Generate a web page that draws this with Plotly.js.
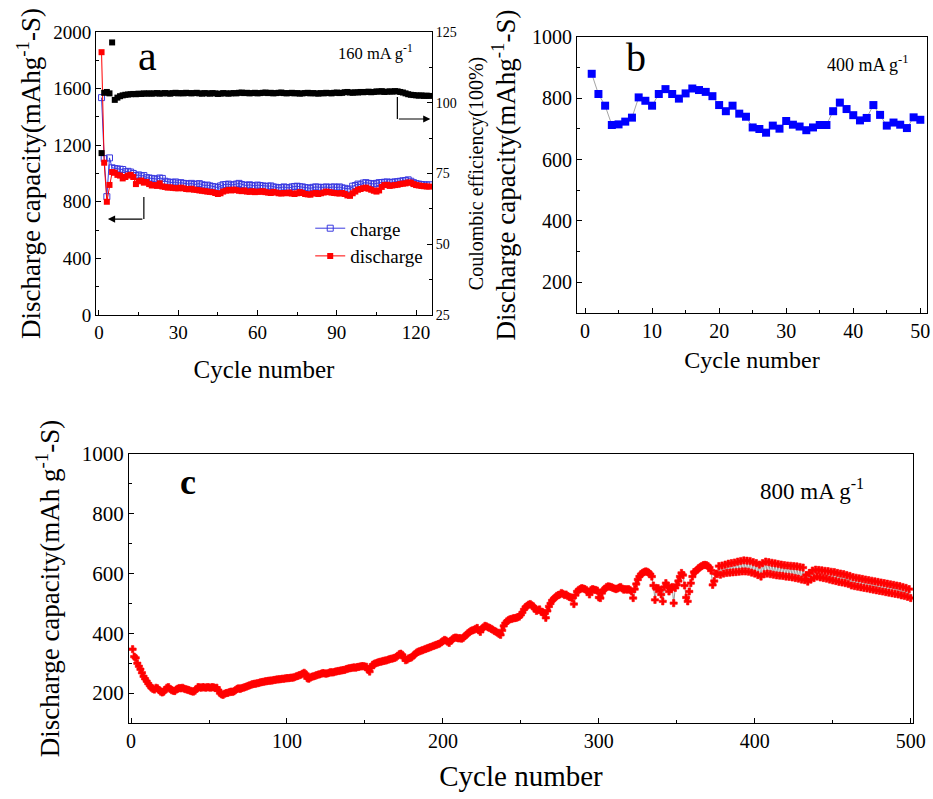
<!DOCTYPE html>
<html><head><meta charset="utf-8">
<script src="https://cdn.plot.ly/plotly-3.0.1.min.js"></script>
<style>html,body{margin:0;padding:0;background:#fff}#chart{width:933px;height:799px}</style>
</head><body><div id="chart"></div>
<script>
// ---------- Panel a (160 mA g-1) ----------
const chargeA = [
1536,1105,836,1110,1040,1035,1032,1030,1028,1012,
1015,1010,1000,985,990,982,985,970,968,965,
962,960,968,965,945,940,938,935,940,932,
935,930,928,925,930,922,925,928,920,915,
918,912,908,905,900,912,920,922,925,918,
920,925,930,922,918,915,920,915,912,918,
915,912,908,910,912,905,902,898,900,905,
900,898,905,908,910,906,905,900,898,895,
902,905,903,900,902,905,900,903,905,900,
905,898,895,888,890,910,915,925,920,932,
935,930,928,925,930,935,936,938,940,935,
938,940,942,945,948,950,955,945,935,928,
925,922,920,918,920];
const dischargeA = [
1857,1076,800,919,1010,1005,990,985,965,975,
985,990,975,925,945,950,935,940,925,915,
918,912,930,908,905,900,902,898,896,895,
900,895,890,888,892,885,884,880,878,875,
872,870,868,862,855,860,872,878,884,880,
886,882,878,875,880,872,870,875,868,872,
870,875,868,865,862,870,865,860,858,862,
860,865,858,855,860,868,862,855,852,850,
858,862,855,860,865,872,868,865,862,860,
858,862,855,845,842,860,872,885,890,896,
900,892,885,878,872,880,905,918,920,912,
915,918,920,925,928,930,936,935,925,918,
915,912,910,908,907];
const coulombA = [
82.2,103.5,103.8,103.3,121.3,101.0,101.8,102.3,102.6,102.8,
102.9,103.0,103.1,103.0,103.2,103.1,103.3,103.2,103.3,103.2,
103.3,103.4,103.2,103.3,103.4,103.3,103.2,103.4,103.5,103.3,
103.4,103.3,103.5,103.4,103.3,103.4,103.5,103.3,103.2,103.4,
103.3,103.2,103.4,103.3,103.1,103.2,103.4,103.3,103.2,103.3,
103.4,103.3,103.5,103.6,103.4,103.5,103.3,103.4,103.5,103.3,
103.4,103.5,103.6,103.4,103.5,103.3,103.4,103.5,103.6,103.4,
103.3,103.4,103.5,103.3,103.4,103.2,103.3,103.4,103.5,103.3,
103.4,103.3,103.2,103.4,103.3,103.5,103.4,103.3,103.5,103.6,
103.4,103.5,103.7,103.8,103.6,103.5,103.7,103.6,103.8,103.7,
103.8,103.9,103.7,103.8,104.0,103.9,104.1,103.8,103.9,104.0,
103.9,104.1,104.0,103.8,103.6,103.3,103.0,102.8,102.7,102.6,
102.5,102.6,102.4,102.5,102.4];

// ---------- Panel b (400 mA g-1) ----------
const dischargeB = [
880,814,776,713,715,724,737,803,792,776,
814,830,814,799,816,832,827,821,807,778,
758,776,750,740,705,700,688,711,701,726,
714,708,696,705,713,713,758,786,765,745,
728,736,778,746,711,721,714,703,738,730];

// ---------- Panel c (800 mA g-1) ----------
const dischargeC = [
347,322,318,300,290,280,268,256,248,240,
232,225,218,214,212,218,216,210,205,202,
205,212,218,220,214,210,208,207,212,215,
217,216,218,215,213,212,210,208,206,205,
208,214,220,219,218,220,219,218,220,219,
218,220,219,217,218,210,200,196,194,198,
200,201,203,205,204,206,210,214,216,214,
217,218,220,222,224,226,228,230,231,232,
233,234,236,237,238,239,240,241,242,242,
243,244,245,246,246,247,248,248,249,250,
250,251,252,252,254,256,258,260,262,265,
268,264,250,248,252,255,256,258,260,262,
263,265,267,266,265,266,268,270,269,270,
272,273,274,275,276,277,278,280,282,283,
284,285,286,285,287,288,289,290,290,289,
288,278,272,285,295,298,300,302,304,305,
306,308,309,310,312,314,315,316,318,320,
325,330,332,328,318,310,312,316,318,320,
325,330,335,338,340,342,344,346,348,350,
352,354,356,358,360,362,364,366,370,374,
378,376,372,368,375,380,384,386,385,383,
384,382,385,390,395,400,404,408,410,412,
415,418,410,405,415,420,425,423,420,418,
415,412,408,406,402,398,395,410,425,434,
440,444,447,448,450,451,452,454,456,462,
470,480,488,492,496,498,494,490,482,475,
478,480,472,470,468,452,475,490,500,510,
515,520,525,528,530,535,532,528,530,525,
522,520,518,498,528,540,545,548,551,550,
548,545,540,530,545,548,546,545,543,520,
518,535,545,550,555,557,556,555,552,550,
548,550,553,555,550,546,548,546,548,545,
540,518,548,565,580,590,598,602,605,607,
606,603,598,590,560,512,548,551,545,530,
507,555,568,560,540,548,555,501,552,562,
575,590,602,595,560,520,507,540,568,590,
605,607,612,618,622,625,628,629,628,625,
620,610,562,575,600,598,625,596,627,600,
630,602,633,603,635,604,637,605,640,606,
642,607,644,607,643,606,642,603,638,600,
635,595,630,590,635,598,640,600,638,598,
636,596,634,594,632,593,630,592,628,590,
627,589,626,587,625,585,624,583,622,580,
620,578,595,573,602,580,610,585,613,590,
612,587,611,585,609,583,608,580,606,577,
605,575,602,572,600,570,598,568,595,565,
592,560,588,558,586,556,584,554,582,552,
580,550,578,548,576,546,574,544,572,542,
570,540,568,538,566,536,564,534,562,532,
560,530,558,527,555,525,552,522,548,518];

const cycA = Array.from({length: chargeA.length}, (_, i) => i + 1);
const cycB = Array.from({length: dischargeB.length}, (_, i) => i + 1);
const cycC = Array.from({length: dischargeC.length}, (_, i) => i + 1);

const FONT = "'Liberation Serif', 'DejaVu Serif', serif";

const traces = [
  {x: cycA, y: chargeA, xaxis: 'x', yaxis: 'y', name: 'charge', mode: 'lines+markers',
   line: {color: '#3a3ae0', width: 1}, marker: {symbol: 'square-open', size: 6, color: '#3a3ae0', line: {width: 1}}},
  {x: cycA, y: dischargeA, xaxis: 'x', yaxis: 'y', name: 'discharge', mode: 'lines+markers',
   line: {color: '#ff0000', width: 1}, marker: {symbol: 'square', size: 6, color: '#ff0000'}},
  {x: cycA, y: coulombA, xaxis: 'x', yaxis: 'y2', name: 'Coulombic efficiency', mode: 'markers',
   showlegend: false, marker: {symbol: 'square', size: 6, color: '#000000'}},
  {x: cycB, y: dischargeB, xaxis: 'x2', yaxis: 'y3', name: '400 mA g-1', mode: 'lines+markers',
   showlegend: false, line: {color: '#666666', width: 0.6}, marker: {symbol: 'square', size: 8, color: '#0000ff'}},
  {x: cycC, y: dischargeC, xaxis: 'x3', yaxis: 'y4', name: '800 mA g-1', mode: 'lines+markers',
   showlegend: false, line: {color: '#555555', width: 0.6},
   marker: {symbol: 'cross', size: 6, color: '#ff0000', line: {color: '#ff0000', width: 0.6}}}
];

function ax(extra) {
  return Object.assign({
    showline: true, linecolor: '#000', linewidth: 1, mirror: true,
    ticks: 'inside', ticklen: 5, tickcolor: '#000', showgrid: false, zeroline: false,
    tickfont: {family: FONT, size: 19, color: '#000'}
  }, extra);
}

function label(xpx, ypx, text, size) {
  return {xref: 'paper', yref: 'paper', x: xpx / 933, y: 1 - ypx / 799, xanchor: 'center', yanchor: 'middle',
          text: text, showarrow: false, font: {family: FONT, size: size, color: '#000'}};
}

const layout = {
  width: 933, height: 799, margin: {l: 0, r: 0, t: 0, b: 0},
  paper_bgcolor: '#fff', plot_bgcolor: '#fff',
  font: {family: FONT, color: '#000'},
  showlegend: true,
  legend: {x: 0.3325, y: 0.738, xanchor: 'left', yanchor: 'top', bgcolor: 'rgba(0,0,0,0)',
           font: {family: FONT, size: 19, color: '#000'}, tracegroupgap: 0},
  xaxis: ax({domain: [0.1029, 0.463], anchor: 'y', range: [-1.1, 126], tick0: 0, dtick: 30,
             minor: {ticks: 'inside', ticklen: 3, dtick: 15, tickcolor: '#000'},
             title: {text: 'Cycle number', font: {family: FONT, size: 25}, standoff: 18}}),
  yaxis: ax({domain: [0.6058, 0.96], anchor: 'x', range: [0, 2000], tick0: 0, dtick: 400, mirror: false,
             minor: {ticks: 'inside', ticklen: 3, dtick: 200, tickcolor: '#000'},
             title: {text: 'Discharge capacity(mAhg<sup>-1</sup>-S)', font: {family: FONT, size: 27}, standoff: 4}}),
  yaxis2: ax({overlaying: 'y', side: 'right', anchor: 'x', range: [25, 125], tick0: 25, dtick: 25, mirror: false,
             tickfont: {family: FONT, size: 14, color: '#000'},
             minor: {ticks: 'inside', ticklen: 3, dtick: 12.5, tickcolor: '#000'},
             title: {text: 'Coulombic efficiency(100%)', font: {family: FONT, size: 20}, standoff: 13}}),
  xaxis2: ax({domain: [0.6184, 0.9936], anchor: 'y3', range: [-1.2, 51], tick0: 0, dtick: 10,
             tickfont: {family: FONT, size: 20, color: '#000'},
             minor: {ticks: 'inside', ticklen: 3, dtick: 5, tickcolor: '#000'},
             title: {text: 'Cycle number', font: {family: FONT, size: 24}, standoff: 10}}),
  yaxis3: ax({domain: [0.6083, 0.9537], anchor: 'x2', range: [100, 1000], tick0: 200, dtick: 200,
             tickfont: {family: FONT, size: 20, color: '#000'},
             minor: {ticks: 'inside', ticklen: 3, dtick: 100, tickcolor: '#000'},
             title: {text: 'Discharge capacity(mAhg<sup>-1</sup>-S)', font: {family: FONT, size: 27}, standoff: 8}}),
  xaxis3: ax({domain: [0.1383, 0.9786], anchor: 'y4', range: [-1.3, 501.5], tick0: 0, dtick: 100,
             tickfont: {family: FONT, size: 20, color: '#000'},
             minor: {ticks: 'inside', ticklen: 3, dtick: 50, tickcolor: '#000'},
             title: {text: 'Cycle number', font: {family: FONT, size: 29}, standoff: 14}}),
  yaxis4: ax({domain: [0.0951, 0.4318], anchor: 'x3', range: [100, 1000], tick0: 200, dtick: 200,
             tickfont: {family: FONT, size: 21, color: '#000'},
             minor: {ticks: 'inside', ticklen: 3, dtick: 100, tickcolor: '#000'},
             title: {text: 'Discharge capacity(mAh g<sup>-1</sup>-S)', font: {family: FONT, size: 27}, standoff: 14}}),
  shapes: [
    {type: 'line', xref: 'x', yref: 'y', x0: 112.9, x1: 112.9, y0: 1540, y1: 1385, line: {color: '#000', width: 1.2}},
    {type: 'line', xref: 'x', yref: 'y', x0: 17, x1: 17, y0: 834, y1: 678, line: {color: '#000', width: 1.2}}
  ],
  annotations: [
    {xref: 'x', yref: 'y', axref: 'x', ayref: 'y', x: 125.4, y: 1385, ax: 112.9, ay: 1385, text: '',
     showarrow: true, arrowhead: 2, arrowsize: 1.2, arrowwidth: 1.2, arrowcolor: '#000'},
    {xref: 'x', yref: 'y', axref: 'x', ayref: 'y', x: 3.4, y: 678, ax: 17, ay: 678, text: '',
     showarrow: true, arrowhead: 2, arrowsize: 1.2, arrowwidth: 1.2, arrowcolor: '#000'},
    label(147, 56, 'a', 42),
    label(375, 53, '160 mA g<sup>-1</sup>', 16.5),
    label(636, 58, 'b', 40),
    label(868, 63, '400 mA g<sup>-1</sup>', 18),
    label(188, 482, '<b>c</b>', 36),
    label(812, 489, '800 mA g<sup>-1</sup>', 23)
  ]
};

Plotly.newPlot('chart', traces, layout, {displayModeBar: false, staticPlot: true});
</script>
</body></html>
